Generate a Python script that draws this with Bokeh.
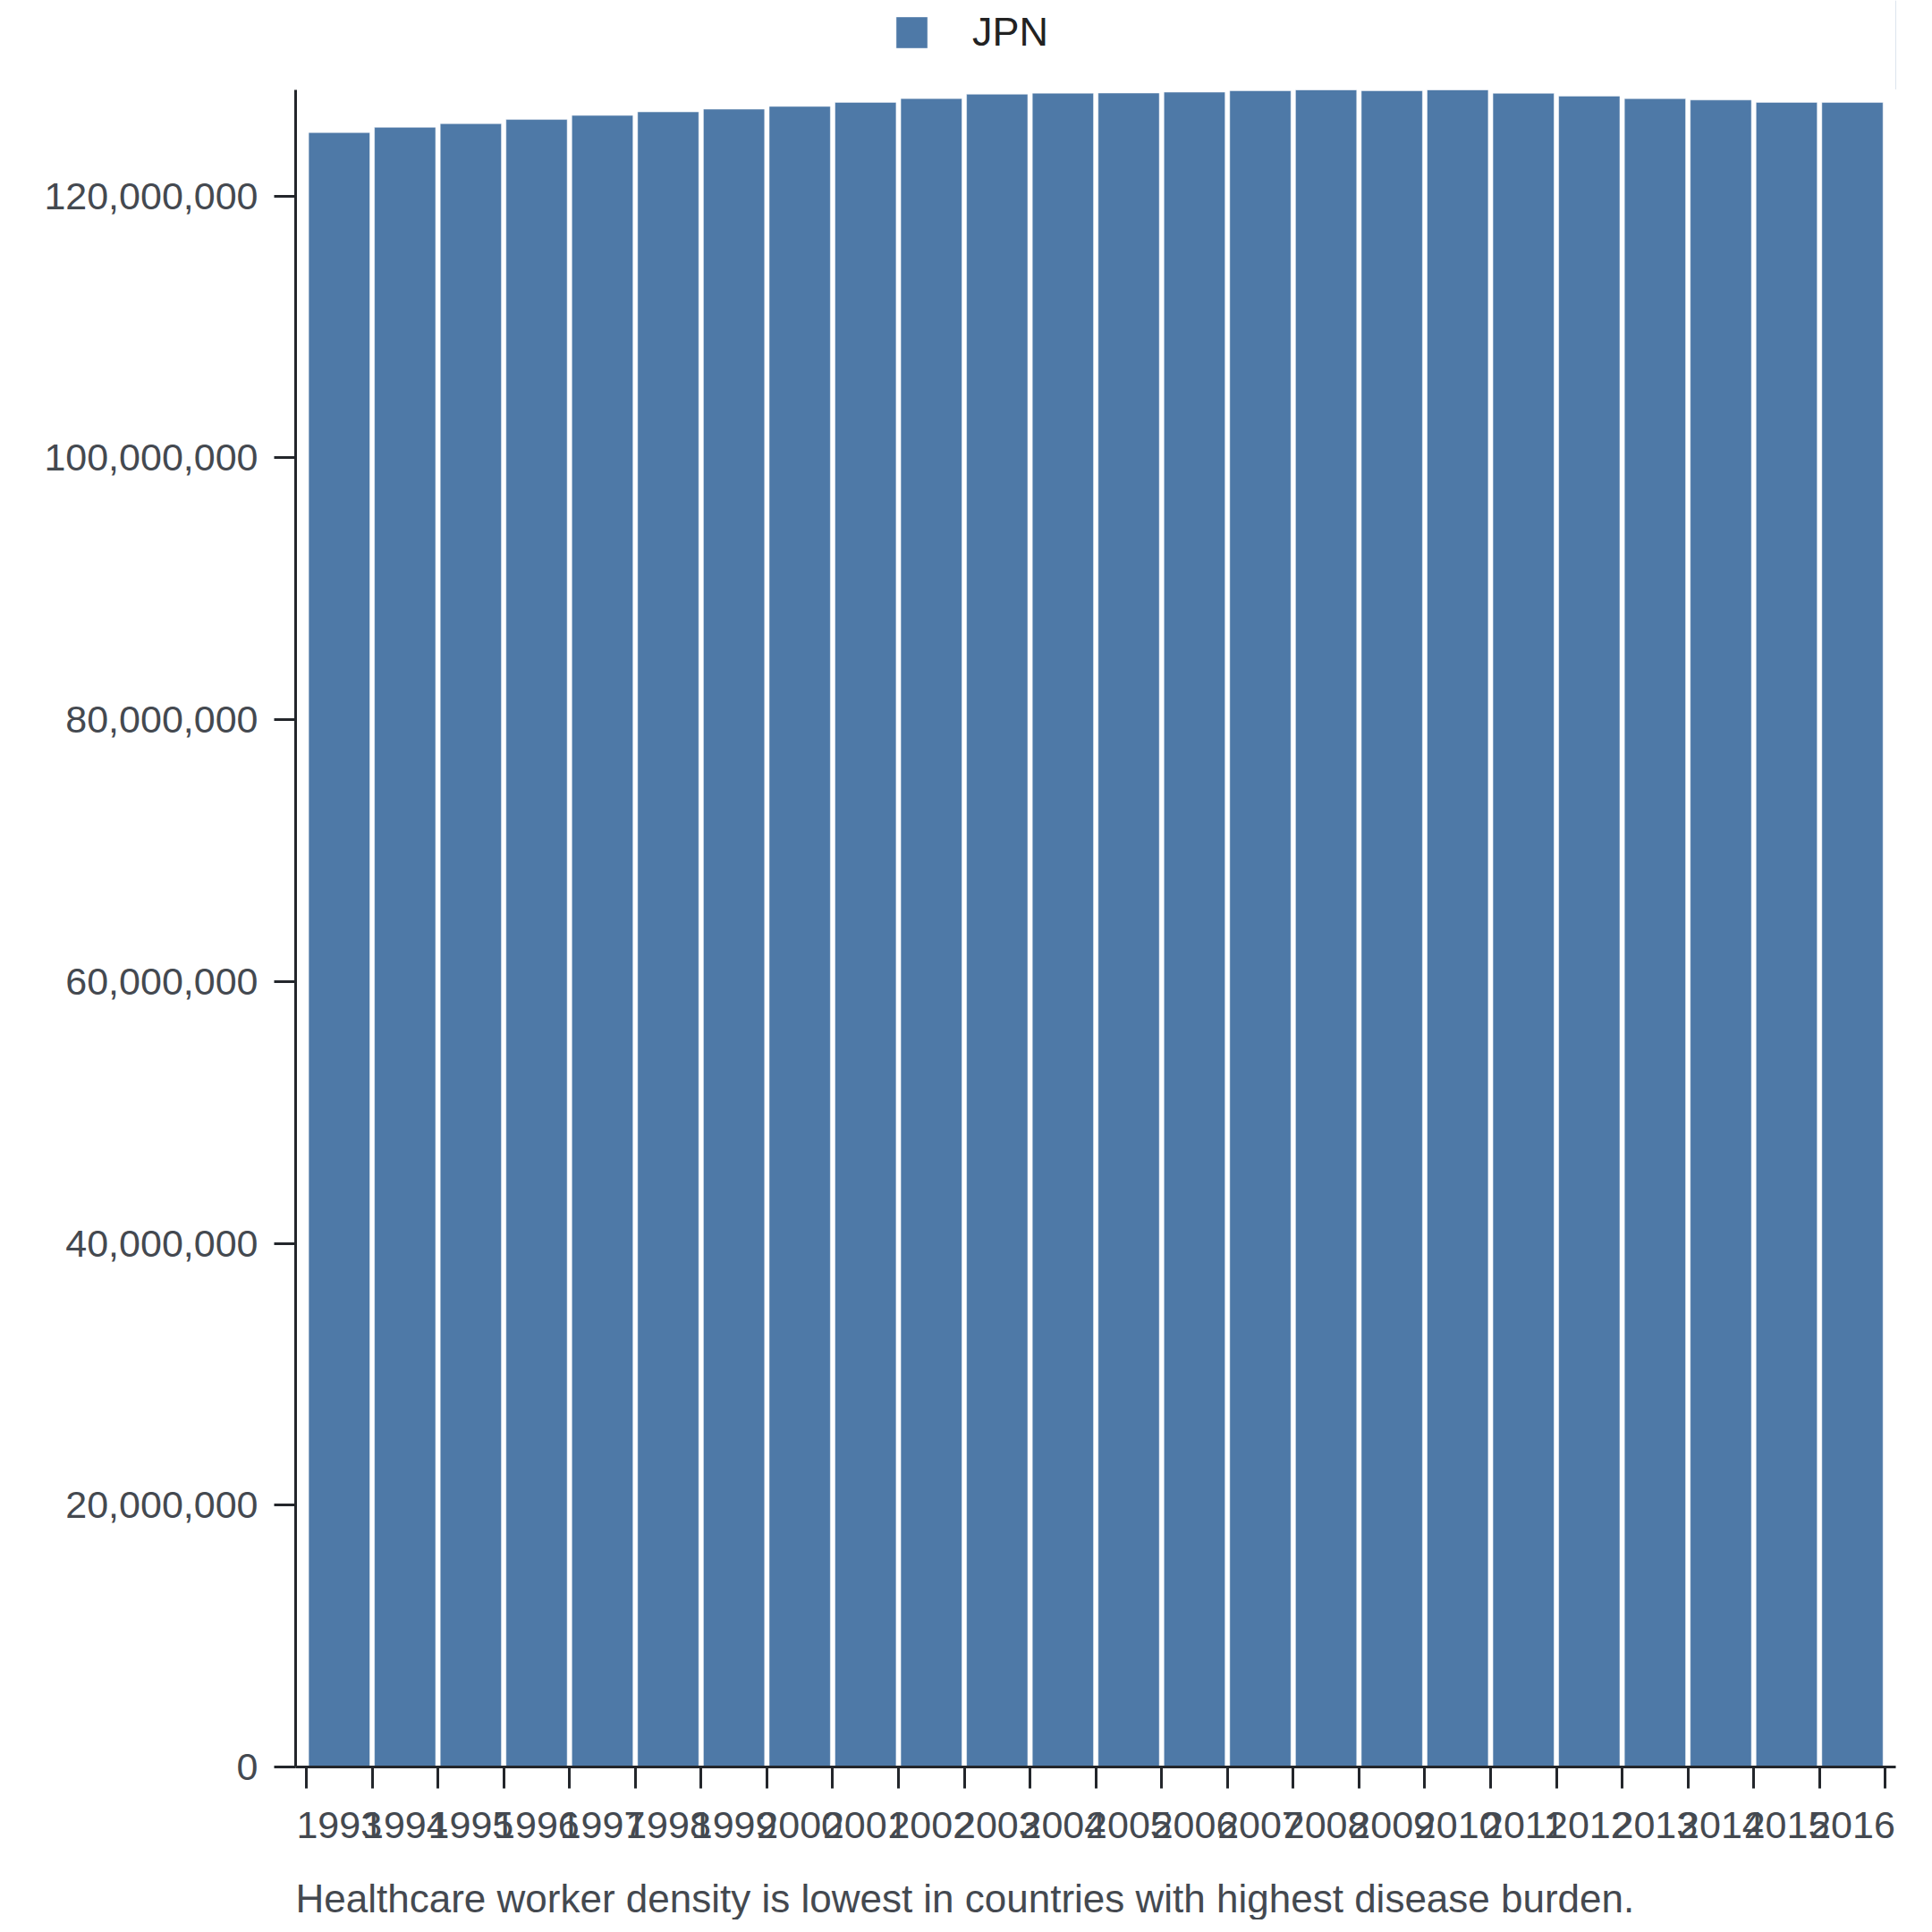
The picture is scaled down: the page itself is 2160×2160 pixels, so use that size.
from bokeh.plotting import figure
from bokeh.layouts import column
from bokeh.models import (ColumnDataSource, Range1d, FixedTicker, NumeralTickFormatter,
                          Legend, LegendItem, Title)
from bokeh.embed import file_html
from bokeh.resources import INLINE

# ---- data ----
years = [1993, 1994, 1995, 1996, 1997, 1998, 1999, 2000, 2001, 2002, 2003, 2004,
         2005, 2006, 2007, 2008, 2009, 2010, 2011, 2012, 2013, 2014, 2015, 2016]
population = [124840000, 125240000, 125520000, 125840000, 126150000, 126420000,
              126630000, 126840000, 127150000, 127440000, 127770000, 127850000,
              127860000, 127930000, 128040000, 128100000, 128040000, 128100000,
              127840000, 127630000, 127430000, 127330000, 127150000, 127140000]
series_name = "JPN"
y_ticks = [0, 20000000, 40000000, 60000000, 80000000, 100000000, 120000000]
caption = "Healthcare worker density is lowest in countries with highest disease burden."

BAR = "#4e79a7"
AXIS = "#23262b"
LABEL = "#444950"
FONT = "Liberation Sans"
FS = "43px"
W = 2144

source = ColumnDataSource(data=dict(year=years, pop=population))

# ---- legend strip above the chart (its own small plot, so the legend is not clipped) ----
pl = figure(width=W, height=100, output_backend="svg", toolbar_location=None,
            x_axis_type=None, y_axis_type=None, min_border=0,
            x_range=Range1d(0, 1), y_range=Range1d(0, 1))
pl.outline_line_color = None
pl.xgrid.grid_line_color = None
pl.ygrid.grid_line_color = None
leg_src = ColumnDataSource(data=dict(year=years[:1], pop=population[:1]))
leg_r = pl.vbar(x="year", top="pop", width=0.9, source=leg_src, fill_color=BAR,
                line_color="white", line_alpha=0.5, line_width=1)
legend = Legend(items=[LegendItem(label=series_name, renderers=[leg_r])],
                location=(667, 38), orientation="horizontal",
                glyph_width=44, glyph_height=44, label_height=35,
                label_standoff=46, padding=0, margin=0, spacing=0,
                border_line_color=None, background_fill_alpha=0,
                label_text_font=FONT, label_text_font_size="45px",
                label_text_color="#222222")
pl.add_layout(legend, "center")

# ---- main chart ----
p = figure(width=W, height=1985, output_backend="svg", toolbar_location=None,
           x_range=Range1d(1992.337, 2016.659), y_range=Range1d(0, max(population)),
           min_border_left=330, min_border_right=25, min_border_top=0,
           min_border_bottom=110)
p.outline_line_color = None
p.xgrid.grid_line_color = None
p.ygrid.grid_line_color = None
p.background_fill_color = "white"
p.border_fill_color = "white"

r = p.vbar(x="year", top="pop", width=0.93, bottom=0, source=source,
           fill_color=BAR, line_color="white", line_alpha=0.5, line_width=1)

# x axis: labels at bar centres, tick marks at bar boundaries
bounds = [y - 0.5 for y in years] + [years[-1] + 0.5]
xa = p.xaxis[0]
xa.ticker = FixedTicker(ticks=years, minor_ticks=bounds)
xa.major_tick_line_color = None
xa.major_tick_out = 24
xa.major_tick_in = 0
xa.minor_tick_out = 24
xa.minor_tick_in = 0
xa.minor_tick_line_color = AXIS
xa.minor_tick_line_width = 3
xa.axis_line_color = AXIS
xa.axis_line_width = 3
xa.major_label_standoff = 26
xa.major_label_text_font = FONT
xa.major_label_text_font_size = FS
xa.major_label_text_color = LABEL

ya = p.yaxis[0]
ya.ticker = FixedTicker(ticks=y_ticks)
ya.formatter = NumeralTickFormatter(format="0,0")
ya.major_tick_out = 24
ya.major_tick_in = 0
ya.minor_tick_line_color = None
ya.major_tick_line_color = AXIS
ya.major_tick_line_width = 3
ya.axis_line_color = AXIS
ya.axis_line_width = 3
ya.major_label_standoff = 18
ya.major_label_text_font = FONT
ya.major_label_text_font_size = FS
ya.major_label_text_color = LABEL

# ---- caption strip below the chart ----
pc = figure(width=W, height=61, output_backend="svg", toolbar_location=None,
            x_axis_type=None, y_axis_type=None, min_border=0,
            x_range=Range1d(0, 1), y_range=Range1d(0, 1))
pc.outline_line_color = None
pc.xgrid.grid_line_color = None
pc.ygrid.grid_line_color = None
t = Title(text=caption, align="left", text_font=FONT, text_font_size="44px",
          text_font_style="normal", text_color=LABEL, standoff=0)
pc.add_layout(t, "below")

layout = column(pl, p, pc, spacing=0)
open("out.html", "w").write(file_html(layout, INLINE))
